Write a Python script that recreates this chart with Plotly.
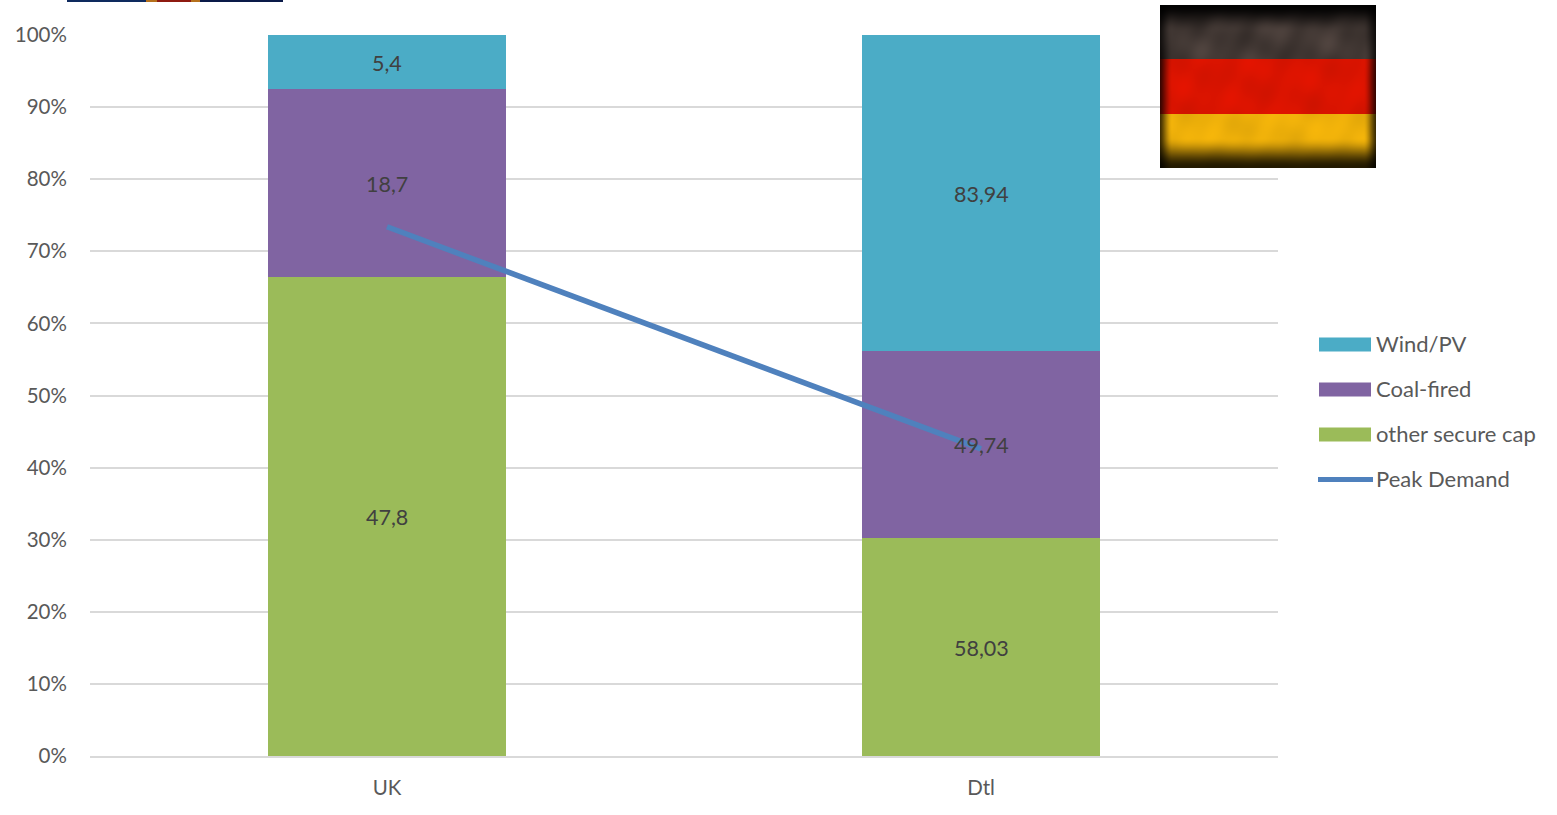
import base64
import struct
import zlib

import numpy as np
import plotly.graph_objects as go

categories = ["UK", "Dtl"]
other_secure = [47.8, 58.03]
coal_fired = [18.7, 49.74]
wind_pv = [5.4, 83.94]
peak_demand_pct = [73.4, 42.6]
y_ticks = list(range(0, 101, 10))
y_tick_labels = [f"{v}%" for v in y_ticks]

FONT = "Lato, Carlito, Calibri, sans-serif"
COL_WIND, COL_COAL, COL_OTHER, COL_PEAK = "#4BACC6", "#8064A2", "#9BBB59", "#4F81BD"
W, H = 1557, 815
PL, PR, PT, PB = 90, 1278, 35, 756


def px(x):
    return (x - PL) / (PR - PL)


def py(y):
    return (PB - y) / (PB - PT)


def png_uri(rgb):
    h, w, _ = rgb.shape
    raw = b"".join(b"\x00" + rgb[r].tobytes() for r in range(h))

    def chunk(tag, data):
        return struct.pack(">I", len(data)) + tag + data + struct.pack(">I", zlib.crc32(tag + data))

    png = (b"\x89PNG\r\n\x1a\n" + chunk(b"IHDR", struct.pack(">IIBBBBB", w, h, 8, 2, 0, 0, 0))
           + chunk(b"IDAT", zlib.compress(raw)) + chunk(b"IEND", b""))
    return "data:image/png;base64," + base64.b64encode(png).decode()


def flag_image():
    w, h = 216, 163
    img = np.zeros((h, w, 3), dtype=float)
    img[:54] = (66, 56, 52)
    img[54:109] = (218, 20, 0)
    img[109:] = (238, 176, 10)
    yy, xx = np.mgrid[0:h, 0:w]
    # soft, irregular mottling of the worn flag picture
    wave = (np.sin(xx / 9.3 + yy / 14.1) + np.sin(xx / 23.7 - yy / 6.9)
            + np.sin((xx + 2 * yy) / 17.3) * np.sin(xx / 5.1)) / 3
    amount = np.where(yy < 54, 0.22, 0.05)
    img *= (1 + amount * wave)[..., None]

    def smooth(t):
        t = np.clip(t, 0, 1)
        return t * t * (3 - 2 * t)

    side = smooth((np.minimum(xx, w - 1 - xx) + 3) / 15)
    top = smooth(yy / 26)
    bottom = smooth((h - 1 - yy) / 30)
    shade = (0.18 + 0.82 * side) * (0.05 + 0.95 * top) * (0.15 + 0.85 * bottom)
    return np.clip(img * shade[..., None], 0, 255).astype(np.uint8)


def cumulative_mid_percent():
    stack = np.array([other_secure, coal_fired, wind_pv], dtype=float)
    pct = stack / stack.sum(axis=0) * 100
    return np.cumsum(pct, axis=0) - pct / 2


fig = go.Figure()
for name, vals, col in [("other secure cap", other_secure, COL_OTHER),
                        ("Coal-fired", coal_fired, COL_COAL),
                        ("Wind/PV", wind_pv, COL_WIND)]:
    fig.add_bar(x=categories, y=vals, name=name, marker=dict(color=col, line_width=0),
                hoverinfo="name+y", showlegend=False)
fig.add_scatter(x=categories, y=peak_demand_pct, name="Peak Demand", mode="lines",
                line=dict(color=COL_PEAK, width=5.5), showlegend=False)

annotations = []
for vals, mids in zip([other_secure, coal_fired, wind_pv], cumulative_mid_percent()):
    for cat, v, mid in zip(categories, vals, mids):
        annotations.append(dict(text=f"{v:g}".replace(".", ","), x=cat, y=mid, xref="x", yref="y",
                                showarrow=False, yshift=-1,
                                font=dict(family=FONT, size=21.5, color="#404040")))

shapes = []
for x0, x1, col in [(67, 146, "#0E2A5E"), (146, 157, "#B5701C"), (157, 191, "#8E1A10"),
                    (191, 200, "#B5701C"), (200, 283, "#0A1A48")]:
    shapes.append(dict(type="rect", xref="paper", yref="paper", x0=px(x0), x1=px(x1),
                       y0=py(2), y1=py(0), fillcolor=col, line_width=0, layer="above"))
legend_rows = [("Wind/PV", COL_WIND, 344.5), ("Coal-fired", COL_COAL, 389.5),
               ("other secure cap", COL_OTHER, 434.5), ("Peak Demand", COL_PEAK, 479.5)]
for label, col, row_y in legend_rows:
    if label == "Peak Demand":
        shapes.append(dict(type="line", xref="paper", yref="paper", x0=px(1318), x1=px(1373),
                           y0=py(row_y), y1=py(row_y), line=dict(color=col, width=5)))
    else:
        shapes.append(dict(type="rect", xref="paper", yref="paper", x0=px(1319), x1=px(1371),
                           y0=py(row_y + 7), y1=py(row_y - 7), fillcolor=col, line_width=0))
    annotations.append(dict(text=label, xref="paper", yref="paper", x=px(1376), y=py(row_y),
                            xanchor="left", yanchor="middle", showarrow=False, xshift=-2, yshift=1,
                            font=dict(family=FONT, size=22, color="#595959")))

fig.update_layout(
    width=W, height=H, barmode="stack", barnorm="percent", bargap=0.6,
    paper_bgcolor="white", plot_bgcolor="white", showlegend=False,
    margin=dict(l=PL, r=W - PR, t=PT, b=H - PB),
    font=dict(family=FONT, size=20.5, color="#595959"),
    shapes=shapes, annotations=annotations,
    images=[dict(source=png_uri(flag_image()), xref="paper", yref="paper",
                 x=px(1160), y=py(5), sizex=216 / (PR - PL), sizey=163 / (PB - PT),
                 xanchor="left", yanchor="top", sizing="stretch", layer="above")],
    xaxis=dict(type="category", range=[-0.5, 1.5], showgrid=False, showline=True,
               linecolor="#D9D9D9", linewidth=1.5, ticks="outside", ticklen=13,
               tickcolor="rgba(0,0,0,0)", tickfont=dict(family=FONT, size=20.5, color="#595959")),
    yaxis=dict(range=[0, 100], tickvals=y_ticks, ticktext=y_tick_labels, showgrid=True,
               gridcolor="#D9D9D9", gridwidth=1.5, zeroline=False, showline=False, ticks="outside",
               ticklen=18, tickcolor="rgba(0,0,0,0)",
               tickfont=dict(family=FONT, size=20.5, color="#595959")),
)
fig.write_html("out.html", config={"displayModeBar": False},
               post_script="document.body.style.margin='0';")
